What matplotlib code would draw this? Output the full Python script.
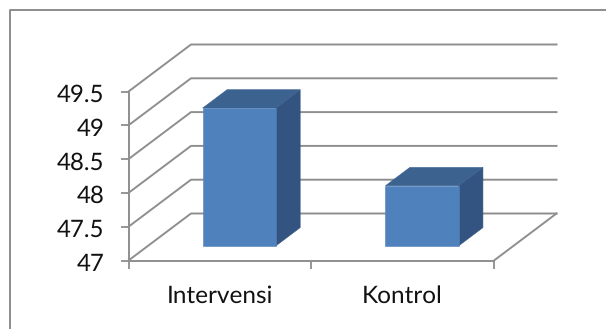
import matplotlib
matplotlib.use("Agg")
import matplotlib.pyplot as plt
from matplotlib.lines import Line2D
from matplotlib.patches import Polygon
from matplotlib.transforms import ScaledTranslation

plt.rcParams["font.family"] = ["Lato", "DejaVu Sans"]
plt.rcParams["text.hinting"] = "no_hinting"

categories = ["Intervensi", "Kontrol"]
values = [49.04, 47.89]
y_ticks = [47, 47.5, 48, 48.5, 49, 49.5]
y_labels = ["47", "47.5", "48", "48.5", "49", "49.5"]

W, H = 606, 329
GREY = "#8e8e8e"
FRONT = "#4f81bd"
SIDE = "#335480"
TOP = "#3c6290"

# oblique projection: how far one full unit of depth moves a point, in data units
DX = 62.5 / 182.75
DY = 47 / 67.6
BAR_W = 0.40
D0, D1 = 0.31, 0.70


def project(x, v, d):
    return x + d * DX, v + d * DY


fig = plt.figure(figsize=(W / 100, H / 100), dpi=100)
ax = fig.add_axes([128.5 / W, 1 - 260.5 / H, 365.5 / W, 169 / H])
ax.set_xlim(0, 2)
ax.set_ylim(47, 49.5)
ax.patch.set_visible(False)

for s in ["top", "right"]:
    ax.spines[s].set_visible(False)
for s in ["left", "bottom"]:
    ax.spines[s].set_color(GREY)
    ax.spines[s].set_linewidth(1.4)

ax.set_yticks(y_ticks, y_labels, fontsize=17.3, color="#111111")
ax.set_xticks([0, 1, 2], ["", "", ""])
ax.set_xticks([0.5, 1.5], categories, minor=True, fontsize=17.6, color="#111111")
ax.tick_params(axis="y", length=5.8, width=1.3, color=GREY, pad=11.5)
ax.tick_params(axis="x", which="major", length=6, width=1.3, color=GREY)
ax.tick_params(axis="x", which="minor", length=0, pad=17.5)

# y labels sit a little under their ticks
nudge = ScaledTranslation(0, -1.5 / 100, fig.dpi_scale_trans)
for label in ax.get_yticklabels():
    label.set_transform(label.get_transform() + nudge)

# side wall and back wall gridlines
for v in y_ticks:
    pts = [project(0, v, 0), project(0, v, 1), project(2, v, 1)]
    ax.plot(*zip(*pts), color=GREY, lw=1.4, clip_on=False, zorder=1)
# right edge of the floor
ax.plot(*zip(project(2, 47, 0), project(2, 47, 1)), color=GREY, lw=1.4, clip_on=False, zorder=1)

for i, val in enumerate(values):
    x0 = i + 0.5 - BAR_W / 2
    x1 = i + 0.5 + BAR_W / 2
    front = [project(x0, 47, D0), project(x1, 47, D0), project(x1, val, D0), project(x0, val, D0)]
    side = [project(x1, 47, D0), project(x1, 47, D1), project(x1, val, D1), project(x1, val, D0)]
    top = [project(x0, val, D0), project(x1, val, D0), project(x1, val, D1), project(x0, val, D1)]
    for pts, c in [(side, SIDE), (top, TOP), (front, FRONT)]:
        ax.add_patch(Polygon(pts, closed=True, fc=c, ec=c, lw=0.4, clip_on=False, zorder=3))

# outer chart border, runs off the right and bottom edges
border_x = [10 / W, 10 / W, 1.0]
border_y = [0.0, 1 - 9.5 / H, 1 - 9.5 / H]
fig.add_artist(Line2D(border_x, border_y, color="#8c8c8c", lw=1.4))

fig.savefig("out.png", dpi=100, facecolor="white")
